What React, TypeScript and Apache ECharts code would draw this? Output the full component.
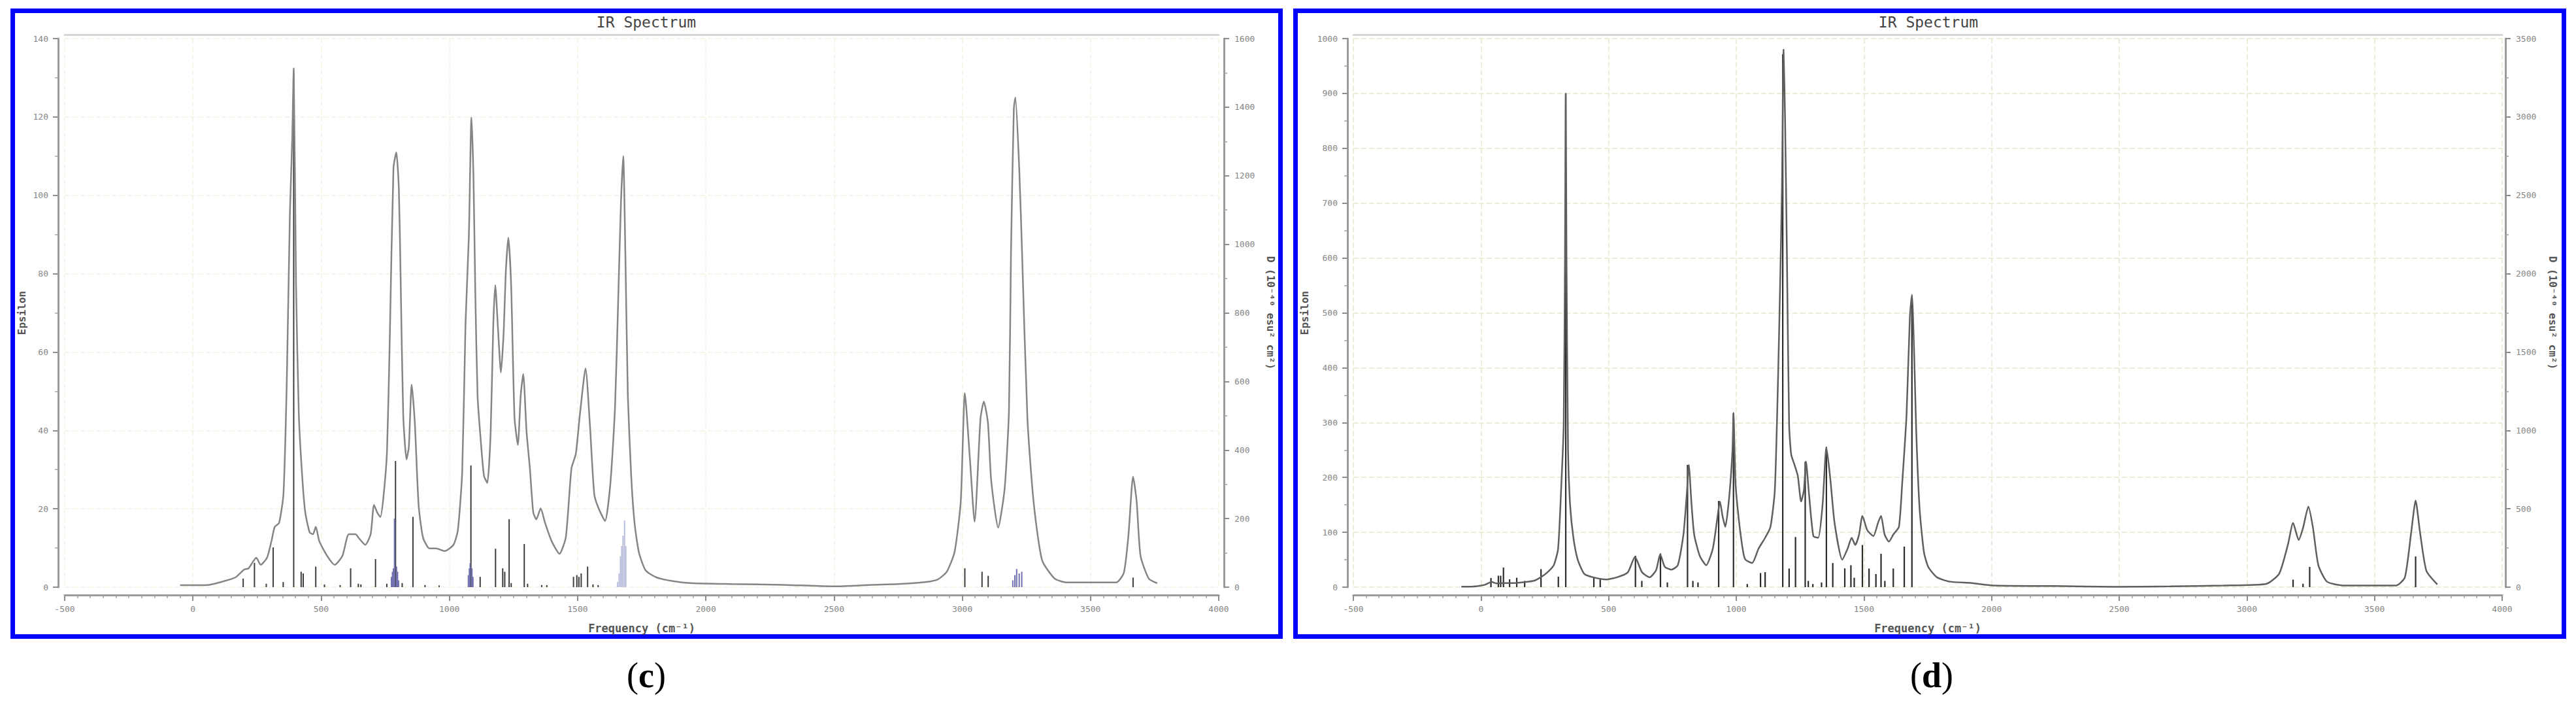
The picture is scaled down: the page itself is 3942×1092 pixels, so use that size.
import React, { useEffect, useRef } from "react";
import * as echarts from "echarts";

// ---------- axis ranges (tick labels) ----------
const freqMin = -500;
const freqMax = 4000;
const freqStep = 500;
const cEpsMax = 140;
const cEpsStep = 20;
const cDMax = 1600;
const cDStep = 200;
const dEpsMax = 1000;
const dEpsStep = 100;
const dDMax = 3500;
const dDStep = 500;

const titleText = "IR Spectrum";
const xName = "Frequency (cm⁻¹)";
const leftName = "Epsilon";
const rightName = "D (10⁻⁴⁰ esu² cm²)";

// ---------- panel (c): broadened spectrum [frequency, epsilon] ----------
const cSpectrum: number[][] = [
  [-50, 0.5], [0, 0.5], [64, 0.6], [120, 1.5], [166, 2.5], [200, 4.5], [217, 4.8], [247, 7.5],
  [264, 5.7], [289, 7.5], [306, 11.7], [319, 15.4], [336, 16.4], [353, 23.7], [366, 52.5],
  [378, 95], [387, 114], [393, 132.4], [402, 77.6], [413, 44], [426, 28.4], [438, 19.1],
  [455, 14], [468, 13.5], [479, 15.4], [493, 11.7], [523, 8], [553, 5.7], [583, 8], [608, 13.5],
  [634, 13.5], [646, 12.6], [672, 10.8], [693, 13.5], [706, 21], [719, 19], [731, 17.9],
  [744, 23.7], [757, 35], [768, 64.6], [782, 107], [793, 111], [803, 101.7], [810, 78.6],
  [820, 44], [833, 32.6], [842, 35.8], [853, 51.7], [865, 42.3], [880, 21], [897, 12.7],
  [922, 9.9], [948, 9.9], [982, 9.2], [1016, 10.8], [1033, 14.5], [1050, 29.3], [1063, 67.4],
  [1076, 89.6], [1086, 119.9], [1094, 104.5], [1101, 75.7], [1110, 48.8], [1122, 37.7],
  [1135, 28.4], [1148, 26.6], [1161, 39.6], [1171, 66.5], [1179, 77.1], [1190, 65.5],
  [1201, 54.8], [1212, 65.5], [1220, 80.4], [1230, 89.2], [1241, 76.7], [1254, 43.3],
  [1267, 36.3], [1278, 48.8], [1288, 54.4], [1301, 39.6], [1314, 30.3], [1327, 19.1],
  [1339, 17.3], [1356, 20.1], [1373, 16.4], [1399, 11.7], [1429, 8.5], [1454, 12.7],
  [1476, 30.3], [1493, 34], [1509, 44.1], [1531, 55.8], [1548, 41.4], [1565, 23.7],
  [1582, 20.1], [1607, 16.9], [1628, 26.6], [1646, 46], [1658, 72.6], [1669, 98], [1678, 110],
  [1686, 86], [1696, 48.8], [1709, 28.4], [1722, 16.4], [1739, 8.9], [1765, 4.3], [1807, 2.5],
  [1875, 1.5], [1950, 1], [2100, 0.8], [2300, 0.6], [2500, 0.2], [2650, 0.6], [2750, 0.8],
  [2855, 1.3], [2905, 2], [2940, 4], [2970, 9], [2994, 21.8], [3010, 49.5], [3030, 32.5],
  [3048, 16.7], [3071, 43], [3084, 47.4], [3100, 42], [3113, 27], [3140, 15.2], [3165, 25],
  [3182, 45], [3190, 85.6], [3201, 122], [3207, 125], [3222, 107], [3233, 85.6], [3254, 43],
  [3278, 21.8], [3311, 6.9], [3360, 2.2], [3408, 1.2], [3600, 1.2], [3630, 3.7], [3648, 13.3],
  [3666, 28.2], [3680, 21.8], [3695, 8], [3727, 2.2], [3760, 1],
];

// panel (c) sticks [frequency, D]
const cSticksDark: number[][] = [
  [196, 25], [240, 71], [286, 10], [313, 116], [352, 15], [393, 1500], [422, 45], [430, 40],
  [479, 60], [513, 8], [574, 6], [615, 55], [645, 10], [655, 8], [712, 82], [756, 10],
  [790, 368], [816, 12], [858, 205], [905, 6], [960, 5], [1084, 355], [1120, 30], [1180, 112],
  [1208, 55], [1216, 45], [1233, 198], [1241, 12], [1292, 126], [1305, 10], [1360, 6],
  [1380, 6], [1484, 30], [1497, 35], [1505, 30], [1514, 40], [1539, 60], [1560, 8], [1580, 6],
  [3010, 55], [3077, 45], [3101, 33], [3666, 28],
];
const cSticksPurple: number[][] = [
  [774, 30], [778, 45], [782, 55], [786, 200], [794, 60], [798, 45], [802, 20],
  [1074, 35], [1078, 55], [1081, 70], [1088, 55], [1092, 30],
  [3197, 20], [3205, 35], [3212, 53], [3222, 40], [3232, 45],
];
const cSticksLight: number[][] = [
  [1656, 15], [1662, 40], [1667, 90], [1672, 120], [1677, 150], [1683, 195], [1688, 120],
];

// ---------- panel (d): broadened spectrum [frequency, epsilon] ----------
const dSpectrum: number[][] = [
  [-77, 1], [-38, 1], [13, 4], [42, 9.5], [60, 7], [89, 7.5], [132, 7.5], [175, 9.5], [209, 12],
  [234, 18], [260, 27], [285, 40], [302, 70], [315, 190], [324, 296], [329, 600], [332, 900],
  [335, 600], [341, 249], [349, 150], [362, 90], [379, 50], [405, 24], [439, 18], [490, 14],
  [533, 18], [575, 27], [603, 55], [631, 27], [661, 18], [686, 31], [702, 60], [720, 37],
  [746, 32], [771, 40], [793, 96], [806, 169], [814, 223], [824, 156], [835, 96], [857, 57],
  [882, 40], [908, 70], [925, 123], [936, 156], [946, 130], [957, 110], [972, 163], [985, 249],
  [989, 318], [997, 190], [1010, 123], [1027, 64], [1036, 50], [1062, 44], [1087, 70],
  [1113, 90], [1134, 110], [1151, 177], [1164, 388], [1173, 580], [1179, 732], [1185, 980],
  [1191, 857], [1198, 620], [1207, 296], [1215, 242], [1228, 223], [1241, 203], [1254, 156],
  [1265, 177], [1273, 229], [1285, 169], [1302, 93], [1321, 90], [1338, 150], [1353, 255],
  [1368, 199], [1385, 117], [1415, 50], [1436, 70], [1452, 90], [1466, 77], [1481, 96],
  [1494, 130], [1513, 104], [1537, 93], [1555, 117], [1567, 130], [1581, 96], [1598, 83],
  [1615, 96], [1637, 110], [1650, 190], [1667, 315], [1680, 494], [1688, 533], [1697, 421],
  [1705, 282], [1718, 143], [1735, 64], [1752, 37], [1786, 18], [1837, 10], [1922, 7.5],
  [2007, 3], [2250, 2], [2483, 0.5], [2700, 1.5], [2907, 3], [3076, 6], [3127, 25], [3161, 78],
  [3181, 117], [3203, 86], [3220, 108], [3241, 147], [3259, 108], [3280, 40], [3314, 10],
  [3381, 3], [3585, 3], [3619, 18], [3644, 101], [3661, 158], [3678, 101], [3703, 30],
  [3746, 5],
];

// panel (d) sticks [frequency, D]
const dSticks: number[][] = [
  [39, 58], [68, 73], [77, 73], [88, 125], [112, 50], [140, 60], [171, 40], [235, 115],
  [303, 67], [332, 3150], [442, 60], [467, 55], [605, 200], [630, 40], [703, 215], [730, 30],
  [809, 780], [830, 40], [850, 30], [931, 550], [989, 1110], [1043, 20], [1095, 90],
  [1113, 96], [1182, 3400], [1207, 119], [1232, 320], [1270, 800], [1282, 40], [1300, 20],
  [1334, 30], [1353, 894], [1378, 154], [1425, 120], [1449, 140], [1462, 60], [1494, 269],
  [1520, 119], [1547, 84], [1567, 213], [1582, 40], [1615, 119], [1658, 259], [1688, 1850],
  [3181, 48], [3220, 22], [3246, 129], [3661, 196],
];

// ---------- helpers ----------
const plain = (v: number) => String(v);
const tickFont = { fontFamily: "DejaVu Sans Mono", fontSize: 13, color: "#858585", formatter: plain };
const nameFont = { fontFamily: "DejaVu Sans Mono", fontSize: 16, fontWeight: "bold", color: "#555" };
const axisLineStyle = { color: "#9c9c9c", width: 3 };

function xBottom(gridIndex: number, splitColor: string) {
  return {
    type: "value", gridIndex, min: freqMin, max: freqMax, interval: freqStep,
    position: "bottom", offset: 12,
    axisLine: { show: true, onZero: false, lineStyle: axisLineStyle },
    axisTick: { show: true, length: 9, lineStyle: { color: "#8c8c8c", width: 2 } },
    minorTick: { show: true, splitNumber: 10, length: 5, lineStyle: { color: "#a0a0a0", width: 1.5 } },
    axisLabel: { ...tickFont, margin: 15 },
    splitLine: { show: true, lineStyle: { color: splitColor, width: 2, type: "dashed" } },
    name: xName, nameLocation: "middle", nameGap: 42,
    nameTextStyle: { ...nameFont, fontSize: 17 },
  };
}

function xTop(gridIndex: number) {
  return {
    type: "value", gridIndex, min: freqMin, max: freqMax, position: "top", offset: 6,
    axisLine: { show: true, onZero: false, lineStyle: { color: "#d6d6d6", width: 3 } },
    axisTick: { show: false }, axisLabel: { show: false }, splitLine: { show: false },
  };
}

function yLeft(gridIndex: number, max: number, interval: number, offset: number, nameGap: number, splitColor: string) {
  return {
    type: "value", gridIndex, min: 0, max, interval, position: "left", offset,
    axisLine: { show: true, onZero: false, lineStyle: axisLineStyle },
    axisTick: { show: true, length: 8, lineStyle: { color: "#8c8c8c", width: 2 } },
    minorTick: { show: true, splitNumber: 2, length: 5, lineStyle: { color: "#a0a0a0", width: 1.5 } },
    axisLabel: { ...tickFont, margin: 15 },
    splitLine: { show: true, lineStyle: { color: splitColor, width: 2, type: "dashed" } },
    name: leftName, nameLocation: "middle", nameGap, nameTextStyle: nameFont,
  };
}

function yRight(gridIndex: number, max: number, interval: number, offset: number, nameGap: number) {
  return {
    type: "value", gridIndex, min: 0, max, interval, position: "right", offset,
    axisLine: { show: true, onZero: false, lineStyle: axisLineStyle },
    axisTick: { show: true, length: 8, lineStyle: { color: "#8c8c8c", width: 2 } },
    minorTick: { show: true, splitNumber: 2, length: 5, lineStyle: { color: "#a0a0a0", width: 1.5 } },
    axisLabel: { ...tickFont, margin: 16 },
    splitLine: { show: false },
    name: rightName, nameLocation: "middle", nameGap, nameRotate: -90, nameTextStyle: nameFont,
  };
}

function stickSeries(data: number[][], xAxisIndex: number, yAxisIndex: number, color: string, width: number) {
  return {
    type: "custom", xAxisIndex, yAxisIndex, data, encode: { x: 0, y: 1 }, z: 2,
    renderItem: (_params: any, api: any) => {
      const f = api.value(0);
      const v = api.value(1);
      const p0 = api.coord([f, 0]);
      const p1 = api.coord([f, v]);
      return {
        type: "line",
        shape: { x1: p0[0], y1: p0[1], x2: p1[0], y2: p1[1] },
        style: { stroke: color, lineWidth: width },
      };
    },
  };
}

function curveSeries(data: number[][], xAxisIndex: number, yAxisIndex: number, color: string) {
  return {
    type: "line", xAxisIndex, yAxisIndex, data, symbol: "none", showSymbol: false,
    smooth: 0.2, z: 3, lineStyle: { color, width: 2.5 },
  };
}

function panelText(x: number, y: number, text: string, font: string, fill: string) {
  return {
    type: "text", x, y, z: 10,
    style: { text, font, fill, textAlign: "center", align: "center", textVerticalAlign: "middle", verticalAlign: "middle" },
  };
}

function panelLabel(x: number, letter: string) {
  return {
    type: "text", x, y: 1033, z: 10,
    style: {
      text: `{p|(}{b|${letter}}{p|)}`,
      textAlign: "center", align: "center", textVerticalAlign: "middle", verticalAlign: "middle",
      rich: {
        p: { font: "54px 'Liberation Serif'", fill: "#000" },
        b: { font: "bold 54px 'Liberation Serif'", fill: "#000" },
      },
    },
  };
}

export default function App() {
  const ref = useRef<HTMLDivElement>(null);
  useEffect(() => {
    if (!ref.current) return;
    const chart = echarts.init(ref.current, undefined, { renderer: "svg" });
    const option: any = {
      animation: false,
      backgroundColor: "#ffffff",
      grid: [
        { left: 99, top: 59, width: 1766, height: 839 },
        { left: 2071, top: 59, width: 1758, height: 839 },
      ],
      xAxis: [xBottom(0, "#f5f5e8"), xTop(0), xBottom(1, "#ececd8"), xTop(1)],
      yAxis: [
        yLeft(0, cEpsMax, cEpsStep, 10, 48, "#f5f5e8"),
        yRight(0, cDMax, cDStep, 8, 63),
        yLeft(1, dEpsMax, dEpsStep, 9, 58, "#ececd8"),
        yRight(1, dDMax, dDStep, 5, 64),
      ],
      series: [
        curveSeries(cSpectrum, 0, 0, "#858585"),
        stickSeries(cSticksDark, 0, 1, "#3c3c3c", 2),
        stickSeries(cSticksPurple, 0, 1, "#7070b0", 2),
        stickSeries(cSticksLight, 0, 1, "#b8bedb", 2),
        curveSeries(dSpectrum, 2, 2, "#5f5f5f"),
        stickSeries(dSticks, 2, 3, "#2c2c2c", 2.2),
      ],
      graphic: [
        { type: "rect", z: 0, shape: { x: 19.5, y: 16.5, width: 1940, height: 957 }, style: { fill: "none", stroke: "#0000ff", lineWidth: 7 } },
        { type: "rect", z: 0, shape: { x: 1982.5, y: 16.5, width: 1941, height: 957 }, style: { fill: "none", stroke: "#0000ff", lineWidth: 7 } },
        panelText(989, 34, titleText, "23px 'DejaVu Sans Mono'", "#444"),
        panelText(2951, 34, titleText, "23px 'DejaVu Sans Mono'", "#444"),
        panelLabel(989, "c"),
        panelLabel(2956, "d"),
      ],
    };
    chart.setOption(option);
    return () => chart.dispose();
  }, []);
  return (
    <div
      ref={ref}
      style={{ position: "fixed", left: 0, top: 0, width: 3942, height: 1092, background: "#fff" }}
    />
  );
}
